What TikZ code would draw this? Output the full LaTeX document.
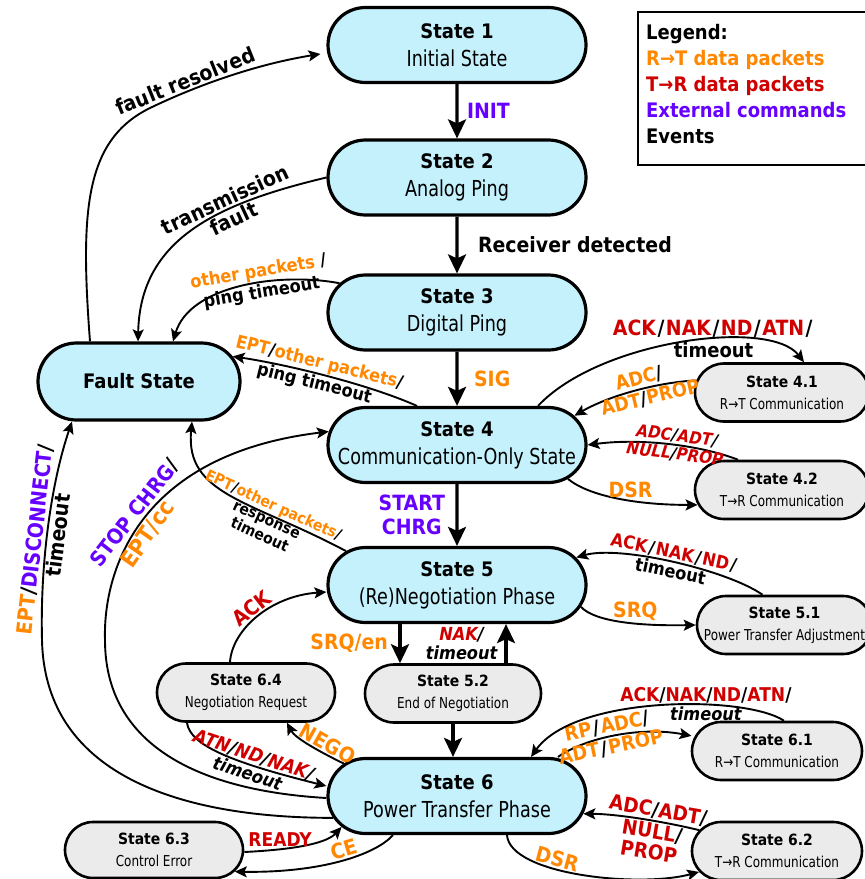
\documentclass[tikz,border=0pt]{standalone}
\usepackage{fontspec}
\setmainfont{DejaVu Sans}[FakeStretch=0.9]
\newfontfamily\subfont{DejaVu Sans}[FakeStretch=0.8]
\usetikzlibrary{arrows.meta,shapes.misc}
\definecolor{cor}{RGB}{255,136,0}
\definecolor{cre}{RGB}{208,0,0}
\definecolor{cpu}{RGB}{102,0,255}
\definecolor{cfill}{RGB}{196,241,252}
\definecolor{gfill}{RGB}{235,235,235}
\newcommand\txO[1]{\textcolor{cor}{#1}}
\newcommand\txR[1]{\textcolor{cre}{#1}}
\newcommand\txP[1]{\textcolor{cpu}{#1}}
\newcommand\slh{\hspace{1.5pt}/\hspace{1.5pt}}
\newcommand\mtxt[2]{{\bfseries #1}\\{\subfont\fontsize{22}{28}\selectfont #2}}
\newcommand\stxt[2]{{\bfseries #1}\\{\subfont\fontsize{15}{22}\selectfont #2}}
\begin{document}
\begin{tikzpicture}[x=1pt,y=-1pt,
  mainstate/.style={rounded rectangle, draw, line width=3.2pt, fill=cfill,
    minimum width=258pt, minimum height=75pt, align=center, inner sep=0pt,
    font=\fontsize{20}{28}\selectfont},
  substate/.style={rounded rectangle, draw, line width=2.6pt, fill=gfill,
    minimum width=174pt, minimum height=58pt, align=center, inner sep=0pt,
    font=\fontsize{15.5}{22}\selectfont},
  lab/.style={font=\bfseries\fontsize{21}{24}\selectfont, inner sep=1.5pt, align=center},
  labm/.style={font=\bfseries\fontsize{18}{19}\selectfont, inner sep=1pt, align=center},
  labi/.style={font=\bfseries\itshape\fontsize{18}{19}\selectfont, inner sep=1pt, align=center},
  labs/.style={font=\bfseries\fontsize{15.5}{17}\selectfont, inner sep=1pt, align=center},
  arr/.style={line width=1.9pt, -{Stealth[length=12pt,width=11pt,inset=2.5pt]}},
  bigarr/.style={line width=3.2pt, -{Stealth[length=19pt,width=18pt,inset=4pt]}},
  legtext/.style={anchor=base west, inner sep=0pt, font=\bfseries\fontsize{20}{20}\selectfont}
]
\useasboundingbox (0,0) rectangle (865,879);

% main states
\node[mainstate] (s1) at (457,45) {\mtxt{State 1}{Initial State}};
\node[mainstate] (s2) at (457,177.5) {\mtxt{State 2}{Analog Ping}};
\node[mainstate] (s3) at (457,312.5) {\mtxt{State 3}{Digital Ping}};
\node[mainstate] (s4) at (457,445) {\mtxt{State 4}{Communication-Only State}};
\node[mainstate] (s5) at (457,585) {\mtxt{State 5}{(Re)Negotiation Phase}};
\node[mainstate] (s6) at (457,796) {\mtxt{State 6}{Power Transfer Phase}};
\node[mainstate, minimum width=202pt, minimum height=77pt,
  font=\bfseries\fontsize{20}{24}\selectfont] (fault) at (139,381.5) {Fault State};

% sub-states
\node[substate] (s41) at (782,392.5) {\stxt{State 4.1}{R→T Communication}};
\node[substate] (s42) at (782,490) {\stxt{State 4.2}{T→R Communication}};
\node[substate, minimum width=175pt] (s51) at (784.5,625)
  {\stxt{State 5.1}{\makebox[120pt][c]{Power Transfer Adjustment}}};
\node[substate, minimum width=176pt] (s52) at (453,693.5) {\stxt{State 5.2}{End of Negotiation}};
\node[substate, minimum width=178pt] (s64) at (246,692.5) {\stxt{State 6.4}{Negotiation Request}};
\node[substate, minimum width=170pt] (s61) at (777,751) {\stxt{State 6.1}{R→T Communication}};
\node[substate, minimum width=170pt] (s62) at (777,851) {\stxt{State 6.2}{T→R Communication}};
\node[substate, minimum width=178pt, minimum height=56pt] (s63) at (154,850) {\stxt{State 6.3}{Control Error}};

% legend
\node[draw, line width=2pt, minimum width=262pt, minimum height=153pt,
  anchor=north west, inner sep=0pt] (legbox) at (637,11) {};
\node[legtext] (lg0) at (646,39) {Legend:};
\node[legtext] (lg1) at (646,65) {\txO{R→T data packets}};
\node[legtext] (lg2) at (646,91) {\txR{T→R data packets}};
\node[legtext] (lg3) at (646,117) {\txP{External commands}};
\node[legtext] (lg4) at (646,143) {Events};

% main chain
\draw[bigarr] (s1) -- (s2) node[lab, right=7pt, midway] (linit) {\txP{INIT}};
\draw[bigarr] (s2) -- (s3) node[lab, right=18pt, midway] (lrecv) {Receiver detected};
\draw[bigarr] (s3) -- (s4) node[lab, right=14pt, midway] (lsig) {\txO{SIG}};
\draw[bigarr] (s4) -- (s5) node[lab, left=9pt, midway] (lstart) {\txP{START}\\\txP{CHRG}};
\draw[bigarr] ([xshift=-57pt]s5.south) -- ([xshift=-53pt]s52.north)
  node[lab, left=9pt, midway] (lsrqen) {\txO{SRQ/en}};
\draw[bigarr] ([xshift=53pt]s52.north) -- ([xshift=49pt]s5.south)
  node[labi, left=6pt, midway] (lnak) {\txR{NAK}/\\timeout};
\draw[bigarr] (s52.south) -- ([xshift=-4pt]s6.north);

% fault handling
\draw[arr, shorten >=6pt] ([xshift=-49pt]fault.north) .. controls (80,210) and (85,140) .. (150,108)
  .. controls (200,84) and (258,64) .. ([yshift=-8pt]s1.west)
  node[lab, sloped, above, pos=0.25] (lfr) {fault resolved};
\draw[arr] (s2.west) .. controls (215,204) and (140,240) .. ([xshift=-1pt]fault.north)
  node[lab, sloped, above, pos=0.33] (ltr1) {transmission}
  node[lab, sloped, below, pos=0.33] (ltr2) {fault};
\draw[arr] (s3.166) .. controls (280,272) and (190,285) .. ([xshift=34pt]fault.north)
  node[labm, sloped, above, pos=0.4] (lop1) {\txO{other packets} /}
  node[labm, sloped, below, pos=0.4] (lop2) {ping timeout};
\draw[arr] ([xshift=-40pt]s4.north) .. controls (370,385) and (290,365) .. (fault.15)
  node[labm, sloped, above, pos=0.56] (lep1) {\txO{EPT}/\txO{other packets}/}
  node[labm, sloped, below, pos=0.56] (lep2) {ping timeout};
\draw[arr] (s5.163) .. controls (250,500) and (185,495) .. ([xshift=53pt]fault.south)
  node[labs, sloped, above, pos=0.3] (lrs1) {\txO{EPT}/\txO{other packets}/}
  node[labs, sloped, below, pos=0.3] (lrs2) {response\\timeout};
\draw[arr] ([yshift=-2pt]s6.west) .. controls (190,790) and (105,740) .. (105,640)
  .. controls (103,575) and (135,455) .. (s4.174)
  node[lab, sloped, above, pos=0.5] (lstop1) {\txP{STOP CHRG}/}
  node[lab, sloped, below, pos=0.47, font=\bfseries\fontsize{23}{24}\selectfont] (lstop2) {\txO{EPT/cc}};
\draw[arr] (s6.190) .. controls (190,818) and (45,780) .. (42,640)
  .. controls (40,560) and (52,480) .. ([xshift=-67pt]fault.south)
  node[lab, sloped, above, pos=0.42] (ldis1) {\txO{EPT}/\txP{DISCONNECT}/}
  node[lab, sloped, below, pos=0.45] (ldis2) {timeout};

% negotiation
\draw[arr] ([xshift=-16pt]s64.north) .. controls (232,630) and (270,596) .. ([yshift=-7pt]s5.west)
  node[lab, sloped, above, pos=0.5] (lack) {\txR{ACK}};
\draw[arr] (s6.164) .. controls (320,752) and (295,738) .. ([xshift=41pt]s64.south)
  node[lab, sloped, above, pos=0.3] (lnego) {\txO{NEGO}};
\draw[arr] ([xshift=-59pt]s64.south) .. controls (190,745) and (230,762) .. ([yshift=10pt]s6.west)
  node[labi, sloped, above, pos=0.68, font=\bfseries\itshape\fontsize{19}{20}\selectfont] (latn1) {\txR{ATN}/\txR{ND}/\txR{NAK}/}
  node[labi, sloped, below, pos=0.68] (latn2) {timeout};
\draw[arr] ([yshift=-2pt]s63.east) .. controls (285,850) and (325,845) .. (s6.195)
  node[lab, above, pos=0.3, font=\bfseries\fontsize{19}{20}\selectfont] (lready) {\txR{READY}};
\draw[arr] ([xshift=-64pt]s6.south) .. controls (375,855) and (320,873) .. (s63.-15)
  node[lab, sloped, above, pos=0.45] (lce) {\txO{CE}};
\draw[arr] (s5.-10) .. controls (595,622) and (640,626) .. (s51.west)
  node[lab, above, pos=0.6] (lsrq) {\txO{SRQ}};
\draw[arr] ([xshift=-22pt]s51.north) .. controls (727,570) and (620,545) .. (s5.13)
  node[labm, sloped, above, pos=0.5] (l51a) {\txR{ACK}\slh\txR{NAK}\slh\txR{ND}\slh}
  node[labm, sloped, below, pos=0.5] (l51b) {timeout};

% state 4 sub-states
\draw[arr] ([xshift=81pt]s4.north) .. controls (600,340) and (770,318) .. ([xshift=22pt]s41.north)
  node[lab, above, pos=0.6] (l41a) {\txR{ACK}\slh\txR{NAK}\slh\txR{ND}\slh\txR{ATN}\slh}
  node[lab, below, pos=0.6, font=\bfseries\fontsize{20}{22}\selectfont] (l41b) {timeout};
\draw[arr] (s41.172) .. controls (660,382) and (610,395) .. (s4.14)
  node[lab, sloped, above, pos=0.45, font=\bfseries\fontsize{19.5}{21}\selectfont] (l41c) {\txO{ADC}/}
  node[lab, sloped, below, pos=0.4, font=\bfseries\fontsize{19.5}{21}\selectfont] (l41d) {\txO{ADT}/\txO{PROP}};
\draw[arr] ([xshift=-44pt]s42.north) .. controls (700,445) and (640,438) .. (s4.east)
  node[labi, sloped, above, pos=0.45, font=\bfseries\itshape\fontsize{17}{18}\selectfont] (l42a) {\txR{ADC}/\txR{ADT}/}
  node[labi, sloped, below, pos=0.45, font=\bfseries\itshape\fontsize{17}{18}\selectfont] (l42b) {\txR{NULL}/\txR{PROP}};
\draw[arr] (s4.-17) .. controls (590,497) and (640,505) .. (s42.190)
  node[lab, above, pos=0.58] (l42c) {\txO{DSR}};

% state 6 sub-states
\draw[arr, shorten >=3pt] ([xshift=101pt]s6.north) .. controls (585,738) and (640,726) .. (s61.170)
  node[lab, sloped, above, pos=0.45, font=\bfseries\fontsize{20}{21}\selectfont] (l61a) {\txO{RP}\slh\txO{ADC}/}
  node[lab, sloped, below, pos=0.45, font=\bfseries\fontsize{20}{21}\selectfont] (l61b) {\txO{ADT}\slh\txO{PROP}};
\draw[arr] ([xshift=7pt]s61.north) .. controls (745,695) and (575,695) .. ([xshift=74pt]s6.north)
  node[labm, above, pos=0.35, font=\bfseries\fontsize{19}{20}\selectfont] (l61c) {\txR{ACK}/\txR{NAK}/\txR{ND}/\txR{ATN}/}
  node[labi, below, pos=0.35] (l61d) {timeout};
\draw[arr] (s62.165) .. controls (670,823) and (620,814) .. (s6.-8)
  node[lab, sloped, above, pos=0.4, font=\bfseries\fontsize{20.5}{21}\selectfont] (l62a) {\txR{ADC}/\txR{ADT}/}
  node[lab, sloped, below, pos=0.42, font=\bfseries\fontsize{20.5}{21}\selectfont] (l62b) {\txR{NULL}/\\\txR{PROP}};
\draw[arr] ([xshift=50pt]s6.south) .. controls (510,875) and (640,888) .. (s62.195)
  node[lab, sloped, above, pos=0.38] (l62c) {\txO{DSR}};
\end{tikzpicture}
\end{document}
